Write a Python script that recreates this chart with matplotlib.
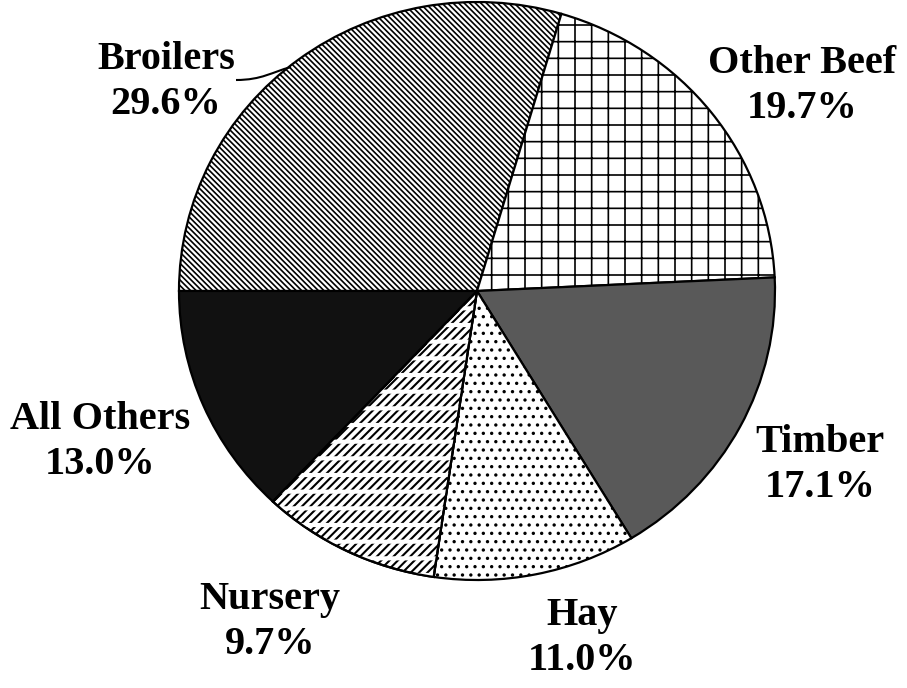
import matplotlib
matplotlib.use("Agg")
import matplotlib.pyplot as plt
from matplotlib.patches import Wedge
from matplotlib.path import Path
from matplotlib.patches import PathPatch

# data
labels = ["Broilers", "Other Beef", "Timber", "Hay", "Nursery", "All Others"]
shares = [29.6, 19.7, 17.1, 11.0, 9.7, 13.0]
facecolors = ["white", "white", "#595959", "white", "white", "#111111"]
hatches = ["\\\\\\\\\\\\", "+", None, "..", None, None]

# label positions in image pixels (centre of the text block)
label_px = [(166, 82), (802, 86), (820, 465), (582, 638), (270, 622), (100, 442)]

W, H = 907, 688
fig = plt.figure(figsize=(W / 100, H / 100), dpi=100)
ax = fig.add_axes([0, 0, 1, 1])

# pie centre / radii in pixels (scan is slightly squashed)
cx, cy, rx, ry = 477, 291, 298, 289

plt.rcParams['hatch.linewidth'] = 1.2
wedges, _ = ax.pie(shares, startangle=180, counterclock=False, colors=facecolors,
                   wedgeprops=dict(edgecolor="black", linewidth=1.6))
for w, h in zip(wedges, hatches):
    if h:
        w.set_hatch(h)

# Nursery: diagonal strokes broken into short dashes by white rows
nurs = wedges[4]
plt.rcParams['hatch.linewidth'] = 1.5
ax.add_patch(Wedge((0, 0), 1, nurs.theta1, nurs.theta2, facecolor="none",
                   edgecolor="black", linewidth=0, hatch="////"))
plt.rcParams['hatch.linewidth'] = 3.0
ax.add_patch(Wedge((0, 0), 1, nurs.theta1, nurs.theta2, facecolor="none",
                   edgecolor="white", linewidth=0, hatch="-"))
ax.add_patch(Wedge((0, 0), 1, nurs.theta1, nurs.theta2, facecolor="none",
                   edgecolor="black", linewidth=1.6))

ax.set_aspect("auto")
ax.set_xlim((0 - cx) / rx, (W - cx) / rx)
ax.set_ylim((cy - H) / ry, cy / ry)
ax.axis("off")

font = dict(family=["Liberation Serif", "DejaVu Serif"], fontweight="bold", fontsize=29)
for lab, val, (px, py) in zip(labels, shares, label_px):
    fig.text(px / W, 1 - py / H, f"{lab}\n{val:.1f}%", ha="center", va="center",
             linespacing=1.3, **font)

# leader line for Broilers
pts = [(236, 80), (262, 80), (272, 72), (291, 67)]
verts = [(x / W, 1 - y / H) for x, y in pts]
leader = PathPatch(Path(verts, [Path.MOVETO, Path.CURVE4, Path.CURVE4, Path.CURVE4]),
                   transform=fig.transFigure, facecolor="none", edgecolor="black", linewidth=1.5)
fig.patches.append(leader)

fig.savefig("out.png", dpi=100, facecolor="white")
